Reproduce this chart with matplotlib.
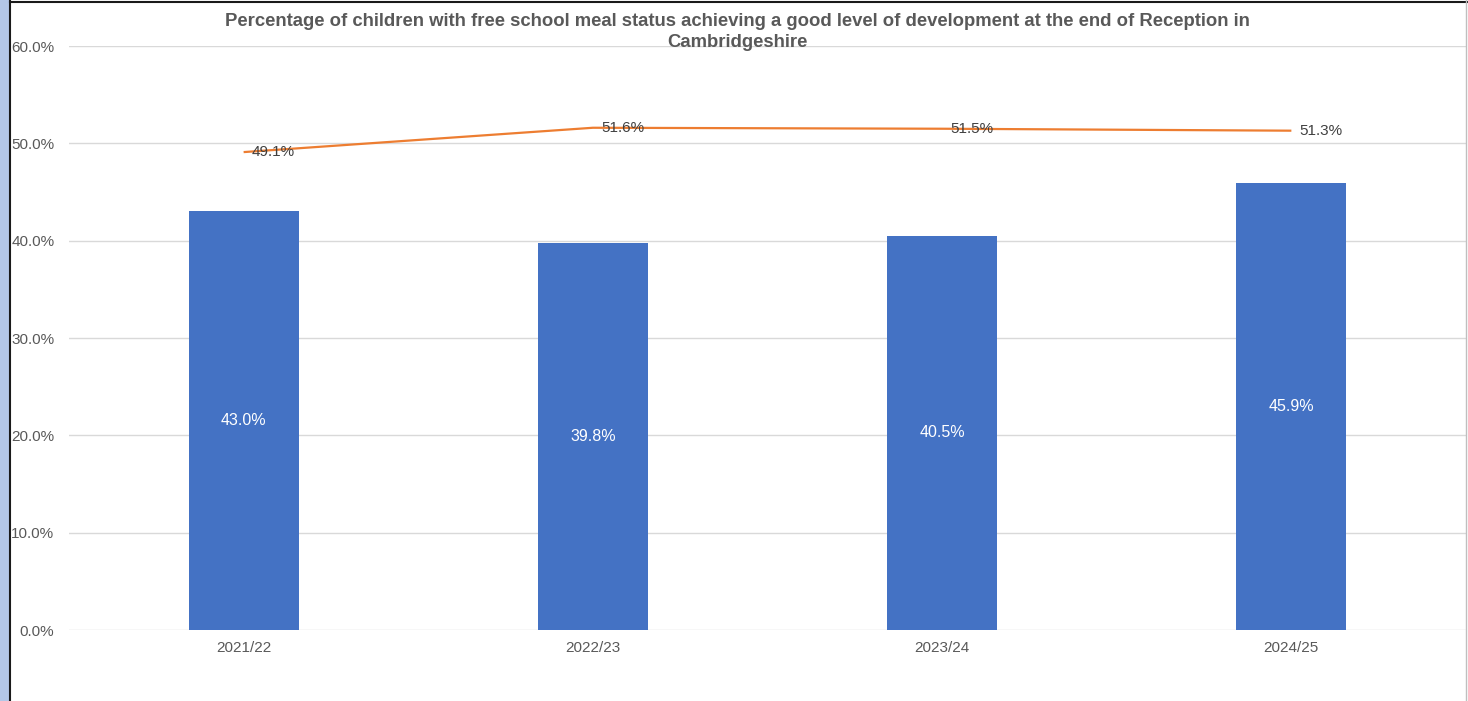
import matplotlib
matplotlib.use("Agg")
import matplotlib.pyplot as plt
from matplotlib.patches import Rectangle
from matplotlib.lines import Line2D
from matplotlib.ticker import FuncFormatter, MultipleLocator

plt.rcParams['font.family'] = ['Liberation Sans', 'DejaVu Sans']

years = ["2021/22", "2022/23", "2023/24", "2024/25"]
fsm_values = [43.0, 39.8, 40.5, 45.9]
line_values = [49.1, 51.6, 51.5, 51.3]
title = ("Percentage of children with free school meal status achieving a good level of development at the end of Reception in\n"
         "Cambridgeshire")

W, H = 1468, 701
fig = plt.figure(figsize=(W / 100, H / 100), dpi=100)
fig.patch.set_facecolor("white")

# frame decorations
fig.add_artist(Rectangle((0, 0), 9 / W, 1, transform=fig.transFigure, facecolor="#B4C7E7", edgecolor="none"))
fig.add_artist(Line2D([10 / W, 10 / W], [0, 1], transform=fig.transFigure, color="#1a1a1a", lw=1.5))
fig.add_artist(Line2D([10 / W, 1], [1 - 1.5 / H, 1 - 1.5 / H], transform=fig.transFigure, color="#1a1a1a", lw=1.5))
fig.add_artist(Line2D([1465.5 / W, 1465.5 / W], [0, 1], transform=fig.transFigure, color="#BFBFBF", lw=1))

left, right = 69, 1466
top, bottom = 46, 630
ax = fig.add_axes([left / W, (H - bottom) / H, (right - left) / W, (bottom - top) / H])
ax.set_facecolor("none")

x = list(range(len(years)))
ax.bar(x, fsm_values, width=0.315, color="#4472C4", zorder=2)
ax.plot(x, line_values, color="#ED7D31", lw=1.6, zorder=3, solid_capstyle="butt")

for xi, v in zip(x, fsm_values):
    ax.text(xi, v / 2, f"{v:.1f}%", ha="center", va="center", color="white", fontsize=11.5, zorder=4)
for xi, v in zip(x, line_values):
    ax.annotate(f"{v:.1f}%", (xi, v), xytext=(6, 0), textcoords="offset points",
                ha="left", va="center", color="#404040", fontsize=11, zorder=4)

ax.set_xlim(-0.5, len(years) - 0.5)
ax.set_ylim(0, 60)
ax.yaxis.set_major_locator(MultipleLocator(10))
ax.yaxis.set_major_formatter(FuncFormatter(lambda v, p: f"{v:.1f}%"))
ax.set_xticks(x)
ax.set_xticklabels(years)
ax.grid(axis="y", color="#D9D9D9", lw=1, zorder=0)
ax.set_axisbelow(True)
for s in ax.spines.values():
    s.set_visible(False)
ax.tick_params(axis="both", length=0, colors="#595959", labelsize=11)
ax.tick_params(axis="y", pad=10.5)
ax.tick_params(axis="x", pad=8)

fig.text(737 / W, 1 - 32 / H, title, ha="center", va="center", fontsize=13.3, fontweight="bold",
         color="#595959", linespacing=1.3)

fig.savefig("out.png", dpi=100)
